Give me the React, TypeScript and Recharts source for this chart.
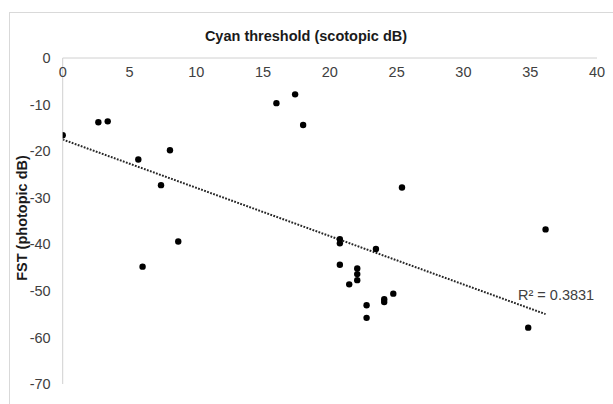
import React from 'react';
import { ScatterChart, Scatter, XAxis, YAxis, ReferenceLine } from 'recharts';

const cyanThreshold = [0, 2.67, 3.37, 5.66, 8.03, 7.36, 8.65, 5.98, 16.0, 17.4, 18.0, 20.75, 20.75, 20.75, 21.45, 22.05, 22.05, 22.05, 22.75, 22.75, 23.45, 24.07, 24.07, 24.75, 25.4, 36.15, 34.85];
const fstPhotopic = [-16.6, -13.8, -13.6, -21.8, -19.8, -27.3, -39.4, -44.8, -9.7, -7.8, -14.4, -38.9, -39.8, -44.4, -48.6, -45.2, -46.4, -47.7, -53.1, -55.8, -41.0, -51.8, -52.4, -50.6, -27.8, -36.8, -57.9];
const xTicks = [0, 5, 10, 15, 20, 25, 30, 35, 40];
const yTicks = [0, -10, -20, -30, -40, -50, -60, -70];
const trendX = [0, 36.15];
const trendY = [-17.5, -55.0];
const title = 'Cyan threshold (scotopic dB)';
const yTitle = 'FST (photopic dB)';
const r2Text = 'R² = 0.3831';

const points = cyanThreshold.map((x, i) => ({ x, y: fstPhotopic[i] }));
const FONT = '"Liberation Sans", Arial, sans-serif';
const FS = 14.5;
const TICK_COLOR = '#404040';

const XTick = (props: any) => {
  const { x, y, payload } = props;
  return (
    <text x={x} y={y + 14} dy="0.355em" textAnchor="middle" fill={TICK_COLOR} fontSize={FS} fontFamily={FONT}>
      {payload.value}
    </text>
  );
};

export default function App() {
  return (
    <div style={{ position: 'absolute', left: 0, top: 0, width: 613, height: 404, background: '#fff', fontFamily: FONT, overflow: 'hidden' }}>
      <div style={{ position: 'absolute', left: 9, top: 12, width: 700, height: 500, borderLeft: '1px solid #d9d9d9', borderTop: '1px solid #d9d9d9' }} />
      <ScatterChart width={613} height={404} margin={{ top: 28, right: 16, bottom: 20, left: 12.7 }} style={{ position: 'absolute', left: 0, top: 0 }}>
        <XAxis
          type="number"
          dataKey="x"
          orientation="top"
          domain={[0, 40]}
          ticks={xTicks}
          allowDataOverflow
          tickLine={false}
          tickSize={0}
          tickMargin={0}
          axisLine={{ stroke: '#d0d0d0', strokeWidth: 1 }}
          tick={<XTick />}
          height={30}
        />
        <YAxis
          type="number"
          dataKey="y"
          domain={[-70, 0]}
          ticks={yTicks}
          allowDataOverflow
          tickLine={false}
          tickSize={0}
          tickMargin={12}
          width={50}
          axisLine={{ stroke: '#d0d0d0', strokeWidth: 1 }}
          tick={{ fill: TICK_COLOR, fontSize: FS, fontFamily: FONT }}
        />
        <ReferenceLine
          segment={[{ x: trendX[0], y: trendY[0] }, { x: trendX[1], y: trendY[1] }]}
          stroke="#262626"
          strokeWidth={2}
          strokeDasharray="1.8 1.4"
          ifOverflow="visible"
        />
        <Scatter data={points} fill="#000" isAnimationActive={false} shape={(p: any) => <circle cx={p.cx} cy={p.cy} r={3.2} fill="#000" />} />
      </ScatterChart>
      <div style={{ position: 'absolute', left: 306, top: 36, transform: 'translate(-50%, -50%)', fontSize: FS, fontWeight: 'bold', color: '#1a1a1a', whiteSpace: 'nowrap' }}>{title}</div>
      <div style={{ position: 'absolute', left: 22, top: 218, transform: 'translate(-50%, -50%) rotate(-90deg)', fontSize: FS, fontWeight: 'bold', color: '#1a1a1a', whiteSpace: 'nowrap' }}>{yTitle}</div>
      <div style={{ position: 'absolute', left: 518, top: 295, transform: 'translateY(-50%)', fontSize: FS, color: '#404040', whiteSpace: 'nowrap' }}>{r2Text}</div>
    </div>
  );
}
